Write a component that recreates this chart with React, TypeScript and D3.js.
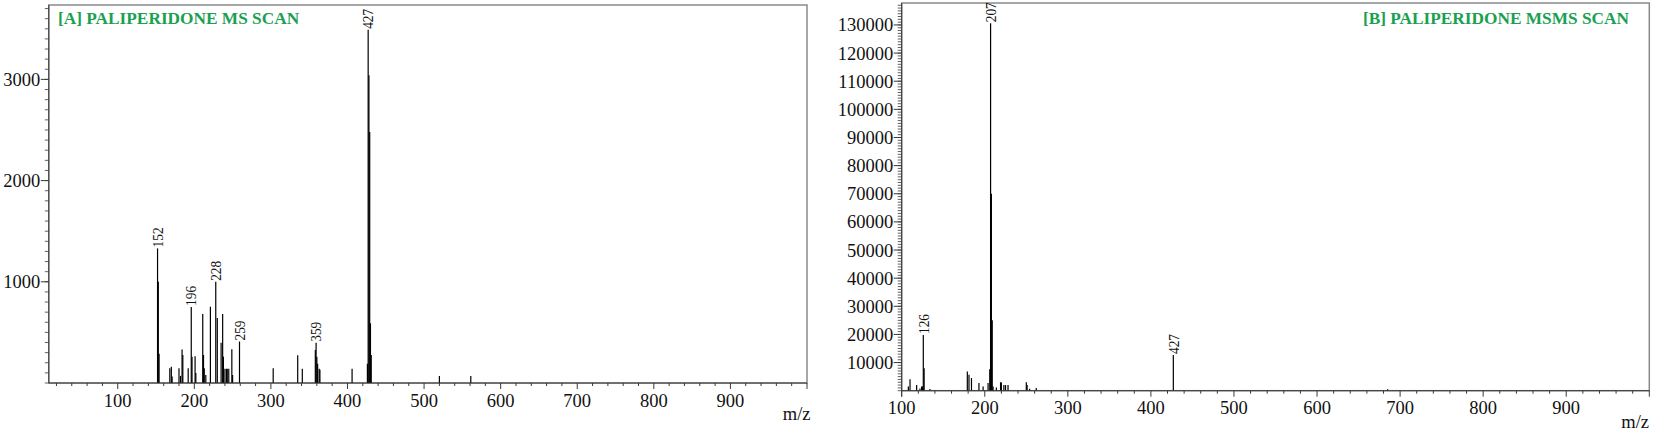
import React from "react";
import * as d3 from "d3";

// ---------- Panel A: MS scan ----------
const msMz = [152, 153, 154, 168, 170, 171, 180, 182, 184, 185, 192, 196, 197, 201, 202, 211, 212, 213, 215, 221, 228, 230, 235, 237, 238, 240, 242, 243, 245, 249, 250, 259, 303, 335, 341, 358, 359, 360, 361, 363, 364, 406, 426, 427, 428, 429, 430, 431, 520, 561];
const msIntensity = [1330, 1000, 290, 145, 160, 63, 145, 70, 330, 277, 145, 752, 260, 265, 100, 682, 277, 145, 80, 754, 1000, 642, 398, 682, 260, 140, 140, 140, 140, 333, 80, 410, 145, 275, 140, 326, 398, 260, 190, 140, 130, 140, 190, 3490, 3040, 2480, 590, 277, 70, 70];
const msLabels = [152, 196, 228, 259, 359, 427];
const msYTicks = [1000, 2000, 3000];

// ---------- Panel B: MSMS scan ----------
const msmsMz = [108, 110, 118, 122, 124, 125, 126, 127, 134, 179, 181, 184, 193, 198, 204, 206, 207, 208, 209, 210, 214, 219, 220, 223, 225, 228, 250, 251, 254, 262, 427, 685];
const msmsIntensity = [1500, 4100, 2000, 800, 1500, 1500, 19800, 8000, 600, 6800, 5700, 4500, 2700, 1500, 2700, 7600, 130600, 70000, 25000, 1500, 1100, 3000, 2900, 2000, 2000, 2000, 3000, 2000, 700, 1000, 12700, 500];
const msmsLabels = [126, 207, 427];
const msmsYTicks = [10000, 20000, 30000, 40000, 50000, 60000, 70000, 80000, 90000, 100000, 110000, 120000, 130000];

const xTickLabels = [100, 200, 300, 400, 500, 600, 700, 800, 900];

const FONT = "'Liberation Serif', 'Times New Roman', serif";
const GREEN = "#1aa150";

type PanelProps = {
  mz: number[];
  intensity: number[];
  labels: number[];
  yTicks: number[];
  yMinorStep: number;
  xDomain: [number, number];
  yMax: number;
  left: number;
  top: number;
  right: number;
  bottom: number;
  title: string;
  titleX: number;
  titleAnchor: "start" | "end";
  mzLabelX: number;
};

function Panel(p: PanelProps) {
  const x = d3.scaleLinear().domain(p.xDomain).range([p.left, p.right]);
  const y = d3.scaleLinear().domain([0, p.yMax]).range([p.bottom, p.top]);
  const xMinor = d3.range(Math.ceil(p.xDomain[0] / 20) * 20, p.xDomain[1] + 0.1, 20);
  const yMinor = d3.range(0, p.yMax, p.yMinorStep);
  const peakMap = new Map<number, number>();
  p.mz.forEach((m, i) => peakMap.set(m, p.intensity[i]));
  const axisColor = "#3a3a3a";
  return (
    <g>
      <rect x={p.left} y={p.top} width={p.right - p.left} height={p.bottom - p.top} fill="none" stroke="#8a8a8a" strokeWidth={1.5} />
      {p.mz.map((m, i) => (
        <line key={"pk" + i} x1={x(m)} x2={x(m)} y1={y(0)} y2={y(p.intensity[i])} stroke="#000" strokeWidth={1.2} />
      ))}
      {p.labels.map((m) => {
        const yy = y(peakMap.get(m) || 0) - 1;
        return (
          <text key={"lb" + m} transform={`translate(${x(m)},${yy}) rotate(-90)`} dy="0.35em" fontFamily={FONT} fontSize={15} textLength={20} lengthAdjust="spacingAndGlyphs" fill="#111">
            {m}
          </text>
        );
      })}
      <line x1={p.left} x2={p.right} y1={p.bottom} y2={p.bottom} stroke={axisColor} strokeWidth={1} />
      <line x1={p.left} x2={p.left} y1={p.top} y2={p.bottom} stroke={axisColor} strokeWidth={1} />
      {xMinor.map((t) => (
        <line key={"xm" + t} x1={x(t)} x2={x(t)} y1={p.bottom} y2={p.bottom + (t % 100 === 0 ? 6 : 3)} stroke={axisColor} strokeWidth={1} />
      ))}
      {p.xDomain[0] % 100 === 0 && (
        <line x1={x(p.xDomain[0])} x2={x(p.xDomain[0])} y1={p.bottom} y2={p.bottom + 6} stroke={axisColor} strokeWidth={1} />
      )}
      {xTickLabels.filter((t) => t >= p.xDomain[0]).map((t) => (
        <text key={"xl" + t} x={x(t)} y={p.bottom + 23.5} textAnchor="middle" fontFamily={FONT} fontSize={18.5} fill="#111">
          {t}
        </text>
      ))}
      {yMinor.map((t) => (
        <line key={"ym" + t} x1={p.left - 4} x2={p.left} y1={y(t)} y2={y(t)} stroke={axisColor} strokeWidth={0.8} />
      ))}
      {p.yTicks.map((t) => (
        <g key={"yt" + t}>
          <line x1={p.left - 8} x2={p.left} y1={y(t)} y2={y(t)} stroke={axisColor} strokeWidth={1} />
          <text x={p.left - 8.5} y={y(t)} dy="0.35em" textAnchor="end" fontFamily={FONT} fontSize={18.5} fill="#111">
            {t}
          </text>
        </g>
      ))}
      <text x={p.mzLabelX} y={p.bottom + 37} textAnchor="end" fontFamily={FONT} fontSize={18.5} fill="#111">
        m/z
      </text>
      <text x={p.titleX} y={23.5} textAnchor={p.titleAnchor} fontFamily={FONT} fontWeight="bold" fontSize={17.3} fill={GREEN}>
        {p.title}
      </text>
    </g>
  );
}

export default function App() {
  return (
    <svg width={1654} height={431} style={{ position: "absolute", left: 0, top: 0, background: "#fff" }}>
      <rect x={0} y={0} width={1654} height={431} fill="#fff" />
      <Panel
        mz={msMz}
        intensity={msIntensity}
        labels={msLabels}
        yTicks={msYTicks}
        yMinorStep={100}
        xDomain={[10, 1000]}
        yMax={3735}
        left={48.8}
        top={5}
        right={807}
        bottom={383}
        title="[A] PALIPERIDONE MS SCAN"
        titleX={58}
        titleAnchor="start"
        mzLabelX={810.5}
      />
      <Panel
        mz={msmsMz}
        intensity={msmsIntensity}
        labels={msmsLabels}
        yTicks={msmsYTicks}
        yMinorStep={1000}
        xDomain={[100, 1000]}
        yMax={137800}
        left={901.7}
        top={3}
        right={1649.3}
        bottom={390.7}
        title="[B] PALIPERIDONE MSMS SCAN"
        titleX={1629}
        titleAnchor="end"
        mzLabelX={1649}
      />
    </svg>
  );
}
